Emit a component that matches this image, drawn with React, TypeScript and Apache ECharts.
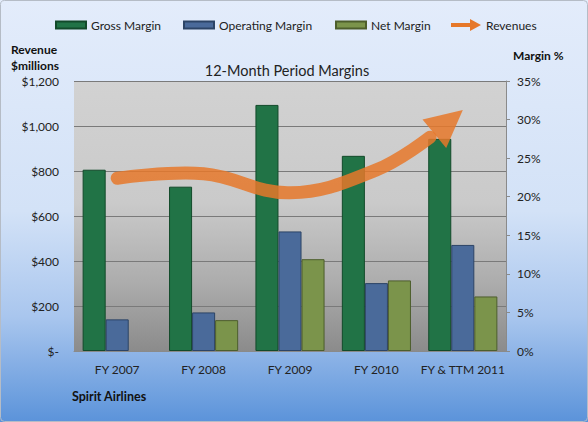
import React, { useEffect, useRef } from "react";
import * as echarts from "echarts";

const categories = ["FY 2007", "FY 2008", "FY 2009", "FY 2010", "FY & TTM 2011"];
const grossMargin = [23.5, 21.3, 31.9, 25.3, 27.5];
const operatingMargin = [4.1, 5.0, 15.5, 8.8, 13.75];
const netMargin: (number | null)[] = [null, 4.0, 11.9, 9.15, 7.07];
const revenues = [768, 788, 703, 805, 1071];

const FONT = "Lato";
const ORANGE = "#E6782A";

export default function App() {
  const ref = useRef<HTMLDivElement>(null);

  useEffect(() => {
    if (!ref.current) return;
    const chart = echarts.init(ref.current, undefined, { renderer: "svg" });

    const renderRevenue = (params: any, api: any) => {
      if (params.dataIndex !== 0) return null;
      const pts = revenues.map((v, i) => api.coord([i, v]));
      const n = pts.length;
      const tip = pts[n - 1];
      const prev = pts[n - 2];
      const ang = Math.atan2(tip[1] - prev[1], tip[0] - prev[0]) - (5 * Math.PI) / 180;
      const ux = Math.cos(ang);
      const uy = Math.sin(ang);
      const L = 37;
      const W = 18.5;
      const base = [tip[0] - ux * L, tip[1] - uy * L];
      const px = -uy;
      const py = ux;
      const head = [
        tip,
        [base[0] + px * W, base[1] + py * W],
        [base[0] - px * W, base[1] - py * W],
      ];
      const body = pts.slice(0, n - 1).concat([[base[0] - ux * 5.5, base[1] - uy * 5.5]]);
      return {
        type: "group",
        children: [
          {
            type: "polyline",
            shape: { points: body, smooth: 0.4 },
            style: { stroke: ORANGE, lineWidth: 13, fill: "none", lineCap: "round", opacity: 0.85 },
          },
          {
            type: "polygon",
            shape: { points: head },
            style: { fill: ORANGE, opacity: 0.85 },
          },
        ],
      };
    };

    const legendText = { fontFamily: FONT, fontSize: 12, color: "#222" };
    const legendBase = { top: 19, padding: 0, itemGap: 0 };

    chart.setOption({
      animation: false,
      backgroundColor: new echarts.graphic.LinearGradient(0, 0, 0, 1, [
        { offset: 0, color: "#e3ecfb" },
        { offset: 0.5, color: "#d3e2f7" },
        { offset: 0.75, color: "#a9c6ee" },
        { offset: 1, color: "#5b93da" },
      ]),
      textStyle: { fontFamily: FONT },
      graphic: [
        {
          type: "rect",
          shape: { x: 0.5, y: 0.5, width: 587, height: 421, r: 4 },
          style: { fill: "none", stroke: "#b5bcc6", lineWidth: 1 },
          silent: true,
        },
      ],
      title: [
        {
          text: "12-Month Period Margins",
          left: 282,
          top: 58,
          textAlign: "center",
          textStyle: { fontFamily: FONT, fontSize: 14.5, fontWeight: "normal", color: "#222" },
        },
        {
          text: "Revenue\n$millions",
          left: 11,
          top: 41,
          padding: 0,
          textStyle: { fontFamily: FONT, fontSize: 12, fontWeight: "bold", color: "#111", lineHeight: 16 },
        },
        {
          text: "Margin %",
          left: 513,
          top: 49,
          padding: 0,
          textStyle: { fontFamily: FONT, fontSize: 12, fontWeight: "bold", color: "#111" },
        },
        {
          text: "Spirit Airlines",
          left: 72,
          top: 390,
          padding: 0,
          textStyle: { fontFamily: FONT, fontSize: 12.5, fontWeight: "bold", color: "#111" },
        },
      ],
      legend: [
        {
          ...legendBase,
          data: ["Gross Margin"],
          left: 55,
          itemWidth: 30,
          itemHeight: 7,
          icon: "rect",
          textStyle: legendText,
        },
        {
          ...legendBase,
          data: ["Operating Margin"],
          left: 183,
          itemWidth: 30,
          itemHeight: 7,
          icon: "rect",
          textStyle: legendText,
        },
        {
          ...legendBase,
          data: ["Net Margin"],
          left: 335,
          itemWidth: 30,
          itemHeight: 7,
          icon: "rect",
          textStyle: legendText,
        },
        {
          ...legendBase,
          data: [
            {
              name: "Revenues",
              icon: "path://M0,4 L19,4 L19,0 L30,6 L19,12 L19,8 L0,8 Z",
            },
          ],
          left: 451,
          itemWidth: 30,
          itemHeight: 12,
          textStyle: legendText,
        },
      ],
      grid: {
        left: 74,
        right: 82,
        top: 81,
        bottom: 71,
        show: true,
        borderWidth: 0,
        backgroundColor: new echarts.graphic.LinearGradient(0, 0, 0, 1, [
          { offset: 0, color: "#d2d2d2" },
          { offset: 0.45, color: "#cacaca" },
          { offset: 0.75, color: "#acacac" },
          { offset: 1, color: "#8b8b8b" },
        ]),
      },
      xAxis: {
        type: "category",
        data: categories,
        axisTick: { show: false },
        axisLine: { show: true, lineStyle: { color: "#8a8a8a", width: 1 } },
        axisLabel: { fontFamily: FONT, fontSize: 12, color: "#222", margin: 12, interval: 0 },
      },
      yAxis: [
        {
          type: "value",
          min: 0,
          max: 1200,
          interval: 200,
          position: "left",
          axisLine: { show: false },
          axisTick: { show: false },
          splitLine: { show: true, lineStyle: { color: "#7a7a7a", width: 1 } },
          axisLabel: {
            fontFamily: FONT,
            fontSize: 12,
            color: "#222",
            margin: 15,
            formatter: (v: number) => (v === 0 ? "$-" : "$" + v.toLocaleString("en-US")),
          },
        },
        {
          type: "value",
          min: 0,
          max: 35,
          interval: 5,
          position: "right",
          axisLine: { show: true, lineStyle: { color: "#8a8a8a" } },
          axisTick: { show: true, length: 4, lineStyle: { color: "#8a8a8a" } },
          splitLine: { show: false },
          axisLabel: { fontFamily: FONT, fontSize: 12, color: "#222", margin: 11, formatter: "{value}%" },
        },
      ],
      series: [
        {
          name: "Gross Margin",
          type: "bar",
          yAxisIndex: 1,
          data: grossMargin,
          barGap: "0%",
          barCategoryGap: "20%",
          itemStyle: { color: "#217346", borderColor: "#124a2a", borderWidth: 1 },
        },
        {
          name: "Operating Margin",
          type: "bar",
          yAxisIndex: 1,
          data: operatingMargin,
          barGap: "0%",
          barCategoryGap: "20%",
          itemStyle: { color: "#4a6a9a", borderColor: "#2c4466", borderWidth: 1 },
        },
        {
          name: "Net Margin",
          type: "bar",
          yAxisIndex: 1,
          data: netMargin,
          barGap: "0%",
          barCategoryGap: "20%",
          itemStyle: { color: "#7b944b", borderColor: "#4d5e2c", borderWidth: 1 },
        },
        {
          name: "Revenues",
          type: "custom",
          yAxisIndex: 0,
          z: 5,
          itemStyle: { color: ORANGE },
          data: revenues.map((v, i) => [i, v]),
          encode: { x: 0, y: 1 },
          renderItem: renderRevenue,
        },
      ],
    });

    return () => chart.dispose();
  }, []);

  return (
    <div
      ref={ref}
      style={{ position: "absolute", left: 0, top: 0, width: 588, height: 422 }}
    />
  );
}
